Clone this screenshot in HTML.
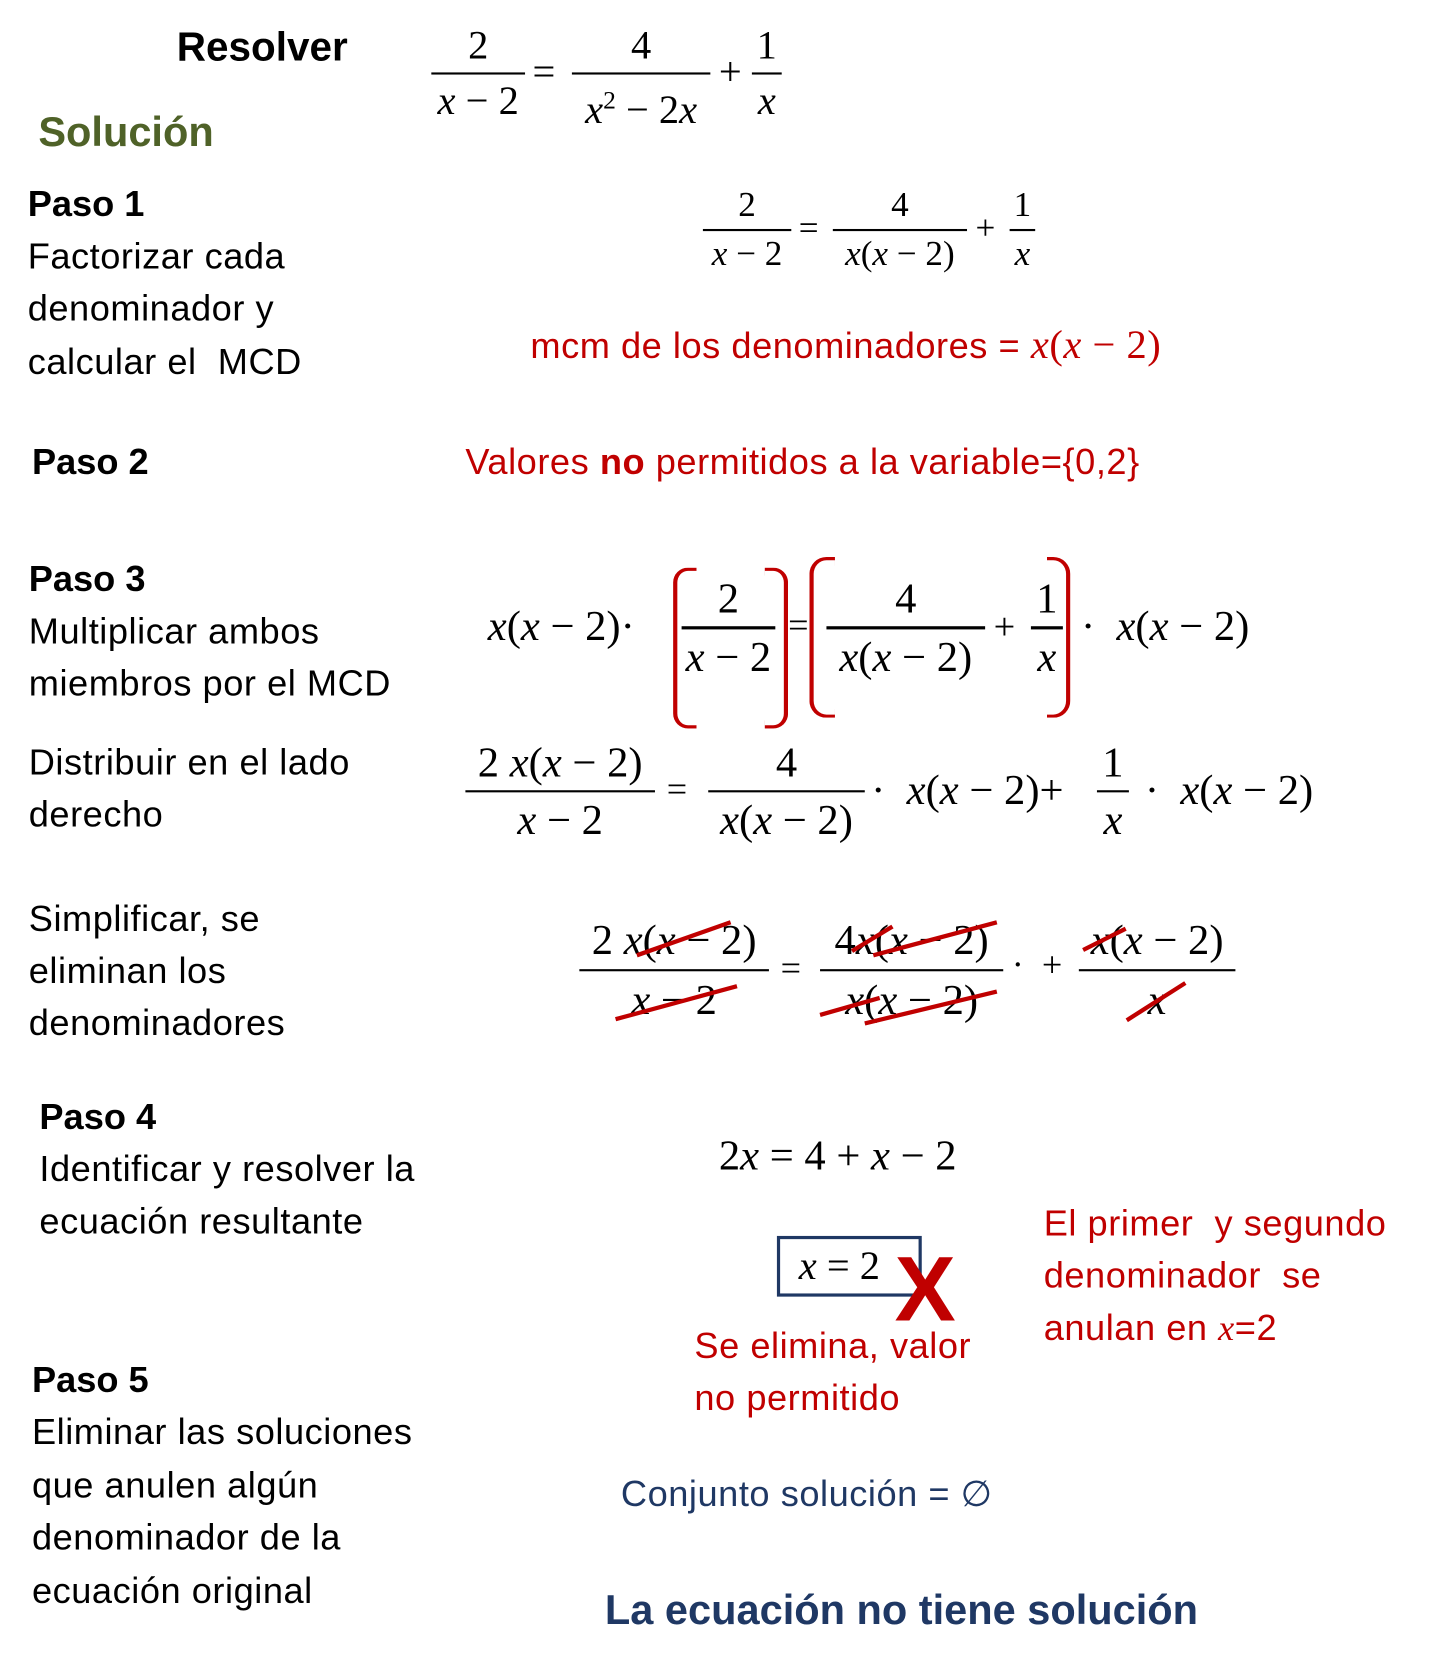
<!DOCTYPE html>
<html><head><meta charset="utf-8"><style>
html,body{margin:0;padding:0;background:#fff;width:1441px;height:1667px;overflow:hidden}
#w{position:absolute;left:0;top:0;width:1353px;height:1566px;transform:scale(1.065);transform-origin:0 0;font-family:"Liberation Sans",sans-serif}
.t{position:absolute;white-space:nowrap;font-size:34px;letter-spacing:0.5px;line-height:49px;color:#000}
.b{font-weight:bold;letter-spacing:0}
.r{color:#c00000}
.m{position:absolute;white-space:nowrap;font-family:"Liberation Serif",serif;color:#000}
.m i,.f i{font-style:italic}
.f{position:absolute;display:flex;flex-direction:column;text-align:center;font-family:"Liberation Serif",serif;white-space:nowrap}
.f .d{border-top:2px solid #000}
.br{position:absolute;border:0 solid #c00000}
</style></head><body><div id="w">

<div class="t b" style="left:166px;top:20px;font-size:38px;line-height:50px">Resolver</div>
<div class="t b" style="left:36px;top:100px;font-size:39px;line-height:50px;color:#4f6228">Solución</div>

<div class="f" style="left:405px;top:18px;width:88px;font-size:38px"><span style="line-height:50px">2</span><span class="d" style="line-height:50px"><i>x</i> − 2</span></div>
<div class="m" style="left:500px;top:46px;font-size:38px;line-height:44px">=</div>
<div class="f" style="left:537px;top:18px;width:130px;font-size:38px"><span style="line-height:50px">4</span><span class="d" style="line-height:50px"><i>x</i><sup style="font-size:24px">2</sup> − 2<i>x</i></span></div>
<div class="m" style="left:675px;top:46px;font-size:38px;line-height:44px">+</div>
<div class="f" style="left:706px;top:18px;width:28px;font-size:38px"><span style="line-height:50px">1</span><span class="d" style="line-height:50px"><i>x</i></span></div>

<div class="t b" style="left:26px;top:168px">Paso 1</div>
<div class="t" style="left:26px;top:217px">Factorizar cada</div>
<div class="t" style="left:26px;top:266px">denominador y</div>
<div class="t" style="left:26px;top:316px">calcular el&nbsp; MCD</div>

<div class="f" style="left:660px;top:171px;width:83px;font-size:33px"><span style="line-height:44px">2</span><span class="d" style="line-height:44px"><i>x</i> − 2</span></div>
<div class="m" style="left:750px;top:196px;font-size:33px;line-height:38px">=</div>
<div class="f" style="left:782px;top:171px;width:126px;font-size:33px"><span style="line-height:44px">4</span><span class="d" style="line-height:44px"><i>x</i>(<i>x</i> − 2)</span></div>
<div class="m" style="left:916px;top:196px;font-size:33px;line-height:38px">+</div>
<div class="f" style="left:948px;top:171px;width:24px;font-size:33px"><span style="line-height:44px">1</span><span class="d" style="line-height:44px"><i>x</i></span></div>

<div class="t r" style="left:498px;top:300px">mcm de los denominadores = <span style="font-family:'Liberation Serif',serif;font-style:italic;font-size:38px">x</span><span style="font-family:'Liberation Serif',serif;font-size:38px">(<i>x</i> − 2)</span></div>

<div class="t b" style="left:30px;top:410px">Paso 2</div>
<div class="t r" style="left:437px;top:410px">Valores <b>no</b> permitidos a la variable={0,2}</div>

<div class="t b" style="left:27px;top:520px">Paso 3</div>
<div class="t" style="left:27px;top:569px">Multiplicar ambos</div>
<div class="t" style="left:27px;top:618px">miembros por el MCD</div>

<div class="m" style="left:458px;top:563px;font-size:40px;line-height:50px"><i>x</i>(<i>x</i> − 2)·</div>
<div class="br" style="left:632px;top:533px;width:18px;height:145px;border-left-width:4px;border-top-width:3px;border-bottom-width:3px;border-radius:14px 0 0 14px"></div>
<div class="f" style="left:640px;top:536px;width:88px;font-size:40px"><span style="line-height:52px">2</span><span class="d" style="line-height:52px;border-top-width:3px"><i>x</i> − 2</span></div>
<div class="br" style="left:718px;top:533px;width:18px;height:145px;border-right-width:4px;border-top-width:3px;border-bottom-width:3px;border-radius:0 14px 14px 0"></div>
<div class="m" style="left:740px;top:566px;font-size:34px;line-height:44px">=</div>
<div class="br" style="left:760px;top:523px;width:20px;height:145px;border-left-width:4px;border-top-width:3px;border-bottom-width:3px;border-radius:16px 0 0 16px"></div>
<div class="f" style="left:776px;top:536px;width:149px;font-size:40px"><span style="line-height:52px">4</span><span class="d" style="line-height:52px;border-top-width:3px"><i>x</i>(<i>x</i> − 2)</span></div>
<div class="m" style="left:933px;top:566px;font-size:36px;line-height:44px">+</div>
<div class="f" style="left:968px;top:536px;width:30px;font-size:40px"><span style="line-height:52px">1</span><span class="d" style="line-height:52px;border-top-width:3px"><i>x</i></span></div>
<div class="br" style="left:983px;top:523px;width:18px;height:145px;border-right-width:4px;border-top-width:3px;border-bottom-width:3px;border-radius:0 16px 16px 0"></div>
<div class="m" style="left:1015px;top:563px;font-size:40px;line-height:50px">·&nbsp; <i>x</i>(<i>x</i> − 2)</div>

<div class="t" style="left:27px;top:692px">Distribuir en el lado</div>
<div class="t" style="left:27px;top:741px">derecho</div>

<div class="f" style="left:437px;top:690px;width:178px;font-size:40px"><span style="line-height:52px">2 <i>x</i>(<i>x</i> − 2)</span><span class="d" style="line-height:52px"><i>x</i> − 2</span></div>
<div class="m" style="left:626px;top:720px;font-size:34px;line-height:44px">=</div>
<div class="f" style="left:665px;top:690px;width:147px;font-size:40px"><span style="line-height:52px">4</span><span class="d" style="line-height:52px"><i>x</i>(<i>x</i> − 2)</span></div>
<div class="m" style="left:818px;top:717px;font-size:40px;line-height:50px">·&nbsp; <i>x</i>(<i>x</i> − 2)+</div>
<div class="f" style="left:1030px;top:690px;width:30px;font-size:40px"><span style="line-height:52px">1</span><span class="d" style="line-height:52px"><i>x</i></span></div>
<div class="m" style="left:1075px;top:717px;font-size:40px;line-height:50px">·&nbsp; <i>x</i>(<i>x</i> − 2)</div>

<div class="t" style="left:27px;top:839px">Simplificar, se</div>
<div class="t" style="left:27px;top:888px">eliminan los</div>
<div class="t" style="left:27px;top:937px">denominadores</div>

<div class="f" style="left:544px;top:856px;width:178px;font-size:40px"><span style="line-height:54px">2 <i>x</i>(<i>x</i> − 2)</span><span class="d" style="line-height:54px"><i>x</i> − 2</span></div>
<div class="m" style="left:733px;top:888px;font-size:34px;line-height:44px">=</div>
<div class="f" style="left:770px;top:856px;width:172px;font-size:40px"><span style="line-height:54px">4<i>x</i>(<i>x</i> − 2)</span><span class="d" style="line-height:54px"><i>x</i>(<i>x</i> − 2)</span></div>
<div class="m" style="left:950px;top:885px;font-size:34px;line-height:44px">·&nbsp; +</div>
<div class="f" style="left:1013px;top:856px;width:147px;font-size:40px"><span style="line-height:54px"><i>x</i>(<i>x</i> − 2)</span><span class="d" style="line-height:54px"><i>x</i></span></div>
<svg style="position:absolute;left:0;top:0" width="1353" height="1566">
<g stroke="#c00000" stroke-width="4">
<line x1="598" y1="897" x2="686" y2="866"/>
<line x1="578" y1="957" x2="692" y2="926"/>
<line x1="800" y1="893" x2="838" y2="870"/>
<line x1="820" y1="897" x2="936" y2="866"/>
<line x1="770" y1="953" x2="826" y2="937"/>
<line x1="812" y1="961" x2="936" y2="931"/>
<line x1="1017" y1="892" x2="1057" y2="872"/>
<line x1="1058" y1="958" x2="1113" y2="923"/>
</g>
<rect x="731" y="1162" width="133" height="54" fill="none" stroke="#1f3864" stroke-width="3"/>
</svg>

<div class="t b" style="left:37px;top:1025px">Paso 4</div>
<div class="t" style="left:37px;top:1074px">Identificar y resolver la</div>
<div class="t" style="left:37px;top:1123px">ecuación resultante</div>

<div class="m" style="left:675px;top:1060px;font-size:40px;line-height:50px">2<i>x</i> = 4 + <i>x</i> − 2</div>
<div class="m" style="left:750px;top:1165px;font-size:38px;line-height:48px"><i>x</i> = 2</div>
<div class="t b r" style="left:840px;top:1168px;font-size:86px;line-height:86px">X</div>

<div class="t r" style="left:652px;top:1240px">Se elimina, valor</div>
<div class="t r" style="left:652px;top:1289px">no permitido</div>
<div class="t r" style="left:980px;top:1125px">El primer&nbsp; y segundo</div>
<div class="t r" style="left:980px;top:1174px">denominador&nbsp; se</div>
<div class="t r" style="left:980px;top:1223px">anulan en <i style="font-family:'Liberation Serif',serif">x</i>=2</div>

<div class="t b" style="left:30px;top:1272px">Paso 5</div>
<div class="t" style="left:30px;top:1321px">Eliminar las soluciones</div>
<div class="t" style="left:30px;top:1371px">que anulen algún</div>
<div class="t" style="left:30px;top:1420px">denominador de la</div>
<div class="t" style="left:30px;top:1470px">ecuación original</div>

<div class="t" style="left:583px;top:1379px;color:#1f3864">Conjunto solución = ∅</div>
<div class="t b" style="left:568px;top:1488px;font-size:39px;line-height:50px;color:#1f3864">La ecuación no tiene solución</div>

</div></body></html>
